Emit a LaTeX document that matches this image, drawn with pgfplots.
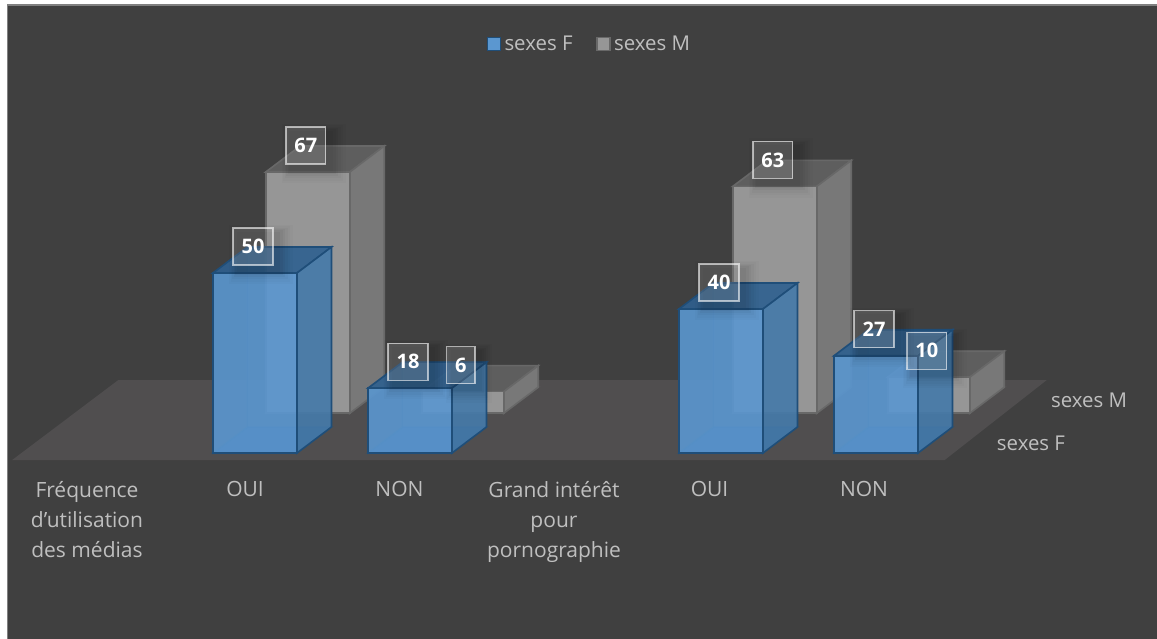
\documentclass[border=0pt]{standalone}
\usepackage{fontspec}
\setmainfont{Open Sans}
\usepackage{pgfplots}
\pgfplotsset{compat=1.18}
\usetikzlibrary{shadows}

\definecolor{bgdark}{HTML}{404040}
\definecolor{floorc}{HTML}{504E4F}
\definecolor{txt}{HTML}{BFBFBF}
\definecolor{blueF}{HTML}{5B97D0}
\definecolor{blueL}{HTML}{1F4E79}
\definecolor{blueS}{HTML}{4579A8}
\definecolor{blueT}{HTML}{2E5F8E}
\definecolor{grayF}{HTML}{969696}
\definecolor{grayL}{HTML}{686868}
\definecolor{grayS}{HTML}{787878}
\definecolor{grayT}{HTML}{5E5E5E}

% one cuboid: x left, x right, y front, y back, value, colour prefix, opacity
\newcommand{\barbox}[7]{
  \addplot3[draw=#6L, line width=1.6pt, fill=#6T, fill opacity=#7, draw opacity=#7*0.3] coordinates {(#1,#3,0)(#2,#3,0)(#2,#4,0)(#1,#4,0)} -- cycle;
  \addplot3[draw=#6L, line width=1.6pt, fill=#6S, fill opacity=#7*0.3, draw opacity=#7*0.3] coordinates {(#1,#3,0)(#1,#4,0)(#1,#4,#5)(#1,#3,#5)} -- cycle;
  \addplot3[draw=#6L, line width=1.6pt, fill=#6F, fill opacity=#7*0.3, draw opacity=#7*0.3] coordinates {(#1,#4,0)(#2,#4,0)(#2,#4,#5)(#1,#4,#5)} -- cycle;
  \addplot3[draw=#6L, line width=1.6pt, fill=#6T, fill opacity=#7] coordinates {(#1,#3,#5)(#2,#3,#5)(#2,#4,#5)(#1,#4,#5)} -- cycle;
  \addplot3[draw=#6L, line width=1.6pt, fill=#6S, fill opacity=#7] coordinates {(#2,#3,0)(#2,#4,0)(#2,#4,#5)(#2,#3,#5)} -- cycle;
  \addplot3[draw=#6L, line width=1.6pt, fill=#6F, fill opacity=#7] coordinates {(#1,#3,0)(#2,#3,0)(#2,#3,#5)(#1,#3,#5)} -- cycle;
}

\begin{document}
\begin{tikzpicture}
\begin{axis}[
  x={(1pt,0pt)}, y={(34.5pt,26pt)}, z={(0pt,3.6pt)},
  xmin=0, xmax=1157, ymin=-1, ymax=3, zmin=-52, zmax=126,
  hide axis, clip=false,
  /pgf/number format/assume math mode=true,
  legend style={at={(axis cs:590,0,113.6)}, anchor=center, draw=none, fill=none,
    legend columns=2, text=txt, font=\fontsize{20.4}{22}\selectfont,
    /tikz/every even column/.append style={column sep=20pt},
    nodes={inner sep=3.5pt}},
  legend cell align=left,
  legend image code/.code={\draw[#1, line width=1.5pt] (0pt,-6.5pt) rectangle (13pt,6.5pt);},
  every axis plot/.append style={line join=miter},
]
% page and plot area
\addplot3[forget plot, draw=none, fill=white] coordinates {(0,0,-51.67)(1157,0,-51.67)(1157,0,125.83)(0,0,125.83)} -- cycle;
\addplot3[forget plot, draw=gray, line width=1.5pt, fill=bgdark] coordinates {(7.5,0,-53)(1160,0,-53)(1160,0,124.4)(7.5,0,124.4)} -- cycle;
% floor
\addplot3[forget plot, draw=none, fill=floorc] coordinates {(21.5,-0.27,0)(954,-0.27,0)(950,2.8,0)(21.5,2.8,0)} -- cycle;

% sexes M (back row)
\pgfplotsset{every axis plot/.append style={forget plot}}
\barbox{213}{297}{1.53}{2.53}{67}{gray}{1}
\barbox{369}{451}{1.53}{2.53}{6}{gray}{1}
\barbox{680}{764}{1.53}{2.53}{63}{gray}{1}
\barbox{835}{917}{1.53}{2.53}{10}{gray}{1}
% sexes F (front row)
\barbox{213}{297}{0}{1}{50}{blue}{0.88}
\barbox{368}{452}{0}{1}{18}{blue}{0.88}
\barbox{679}{763}{0}{1}{40}{blue}{0.88}
\barbox{834}{918}{0}{1}{27}{blue}{0.88}

% data labels
\addplot3[draw=none, mark=none,
  point meta=z,
  nodes near coords,
  nodes near coords style={
    anchor=center, xshift=-2pt, yshift=26.5pt,
    font=\fontsize{20}{22}\selectfont\bfseries, text=white, text opacity=1,
    general shadow={shadow xshift=5pt, shadow yshift=-5pt, shadow scale=1.1, draw=none, fill=black, opacity=0.03},
    general shadow={shadow xshift=5pt, shadow yshift=-5pt, shadow scale=1.2, draw=none, fill=black, opacity=0.03},
    general shadow={shadow xshift=5pt, shadow yshift=-5pt, shadow scale=1.3, draw=none, fill=black, opacity=0.03},
    general shadow={shadow xshift=5pt, shadow yshift=-5pt, shadow scale=1.4, draw=none, fill=black, opacity=0.025},
    general shadow={shadow xshift=5pt, shadow yshift=-5pt, shadow scale=1.5, draw=none, fill=black, opacity=0.02},
    general shadow={shadow xshift=5pt, shadow yshift=-5pt, shadow scale=1.6, draw=none, fill=black, opacity=0.02},
    draw=white, draw opacity=0.6, line width=1.3pt, fill=white, fill opacity=0.15,
    inner xsep=8.5pt, inner ysep=0pt, minimum height=37pt,
  }] table {
x y z
255 1.53 67
410 1.53 6
722 1.53 63
876 1.53 10
255 0 50
410 0 18
721 0 40
876 0 27
};

% legend
\pgfplotsset{every axis plot/.append style={forget plot=false}}
\addlegendimage{draw=blueL, fill=blueF}
\addlegendentry{sexes F}
\addlegendimage{draw=grayL, fill=grayF}
\addlegendentry{sexes M}

% category and depth labels
\tikzset{lab/.style={text=txt, font=\fontsize{21}{29.8}\selectfont, align=center, anchor=north}}
\node[lab] at (axis cs:87,0,-7) {Fréquence\\d’utilisation\\des médias};
\node[lab] at (axis cs:245,0,-7) {OUI};
\node[lab] at (axis cs:399.5,0,-7) {NON};
\node[lab] at (axis cs:554,0,-7) {Grand intérêt\\pour\\pornographie};
\node[lab] at (axis cs:709.5,0,-7) {OUI};
\node[lab] at (axis cs:864,0,-7) {NON};
\tikzset{lab2/.style={text=txt, font=\fontsize{20.4}{22}\selectfont, anchor=center}}
\node[lab2] at (axis cs:1031,0,2.6) {sexes F};
\node[lab2] at (axis cs:1089,0,14.7) {sexes M};

\coordinate (bbA) at (axis cs:0,0,-51.67);
\coordinate (bbB) at (axis cs:1157,0,125.83);
\end{axis}
\pgfresetboundingbox
\useasboundingbox (bbA) rectangle (bbB);
\end{tikzpicture}
\end{document}
